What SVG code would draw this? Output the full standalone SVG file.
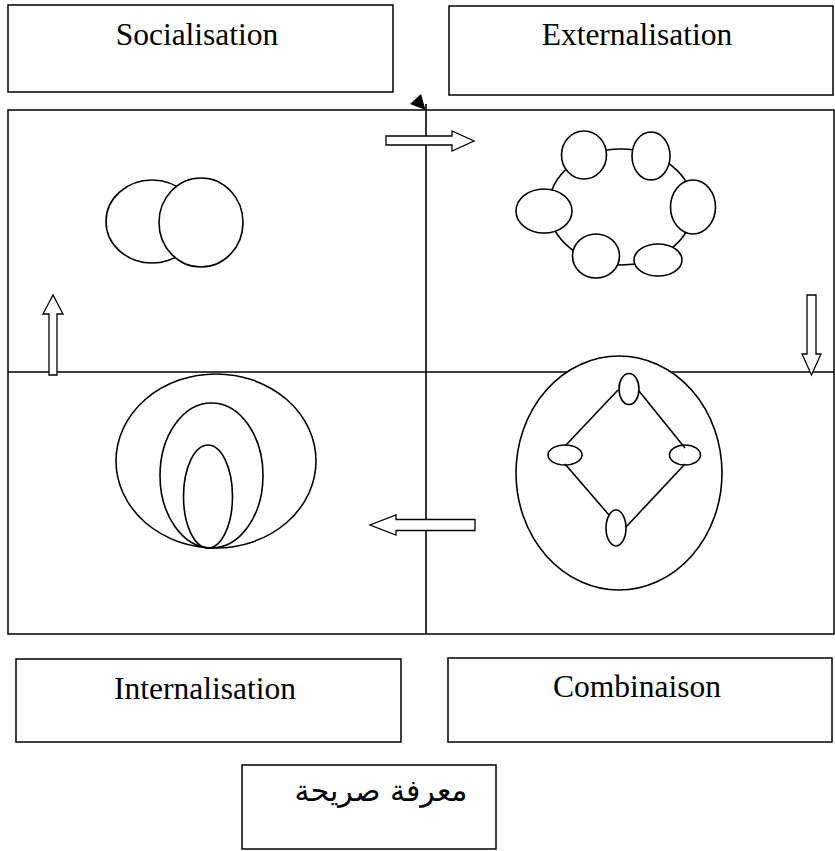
<svg xmlns="http://www.w3.org/2000/svg" width="835" height="851" viewBox="0 0 835 851">
  <style>
    .box { fill: #ffffff; stroke: #000000; stroke-width: 1.5; }
    .shape { fill: #ffffff; stroke: #000000; stroke-width: 1.6; }
    .ring { fill: none; stroke: #000000; stroke-width: 1.6; }
    .line { stroke: #000000; stroke-width: 1.6; fill: none; }
    .arrow { fill: #ffffff; stroke: #000000; stroke-width: 1.3; stroke-linejoin: miter; }
    .label { font-family: "Liberation Serif", "Times New Roman", serif; font-size: 31.5px; fill: #000000; text-anchor: middle; }
    .arabic { font-family: "DejaVu Sans", "Noto Sans", sans-serif; font-size: 30px; fill: #000000; text-anchor: middle; }
  </style>
  <rect width="835" height="851" fill="#ffffff"/>

  <!-- Title boxes -->
  <g id="socialisation">
    <rect class="box" x="8" y="5" width="385" height="87"/>
    <text class="label" x="197" y="45">Socialisation</text>
  </g>
  <g id="externalisation">
    <rect class="box" x="449" y="6" width="384" height="89"/>
    <text class="label" x="637" y="45">Externalisation</text>
  </g>

  <!-- Quadrant frame -->
  <g id="frame">
    <rect class="box" x="8" y="110" width="826" height="524" fill="none"/>
    <line class="line" x1="8" y1="372" x2="834" y2="372"/>
  </g>

  <!-- Connectors -->
  <g id="connectors">
    <line class="line" x1="426" y1="104" x2="426" y2="634"/>
    <polygon points="410,104 421,94 425.5,110" fill="#000000"/>
    <!-- right arrow (top) -->
    <polygon class="arrow" points="386,136 452,136 452,131 474,141 452,151 452,145 386,145"/>
    <!-- down arrow (right) -->
    <polygon class="arrow" points="807,295 816,295 816,354 821,354 811.5,375 802,354 807,354"/>
    <!-- left arrow (bottom) -->
    <polygon class="arrow" points="475,519.5 475,530.5 396,530.5 396,535 370,525 396,515 396,519.5"/>
    <!-- up arrow (left) -->
    <polygon class="arrow" points="49,375 57,375 57,314 63,314 53,295 43,314 49,314"/>
  </g>

  <!-- Socialisation figure: two overlapping circles -->
  <g id="fig-socialisation">
    <ellipse class="shape" cx="152" cy="221.5" rx="46" ry="41.5"/>
    <ellipse class="shape" cx="201" cy="222.5" rx="42" ry="44.5"/>
  </g>

  <!-- Externalisation figure: ring of ellipses -->
  <g id="fig-externalisation">
    <ellipse class="ring" cx="621" cy="207" rx="72" ry="58"/>
    <ellipse class="shape" cx="584" cy="155" rx="22.5" ry="24"/>
    <ellipse class="shape" cx="651" cy="156" rx="19" ry="24"/>
    <ellipse class="shape" cx="693" cy="207" rx="22.5" ry="27"/>
    <ellipse class="shape" cx="658" cy="260" rx="24" ry="16"/>
    <ellipse class="shape" cx="596" cy="256" rx="23.5" ry="22"/>
    <ellipse class="shape" cx="544" cy="211" rx="28" ry="22"/>
  </g>

  <!-- Internalisation figure: nested ellipses -->
  <g id="fig-internalisation">
    <ellipse class="ring" cx="216" cy="461" rx="100" ry="87"/>
    <ellipse class="ring" cx="211.5" cy="475.5" rx="51.5" ry="72.5"/>
    <ellipse class="ring" cx="208" cy="496.5" rx="24.5" ry="51.5"/>
  </g>

  <!-- Combinaison figure: diamond of ellipses inside a large ellipse -->
  <g id="fig-combinaison">
    <ellipse class="shape" cx="619" cy="473" rx="103" ry="117"/>
    <line class="line" x1="618" y1="390" x2="566" y2="445"/>
    <line class="line" x1="639" y1="391" x2="685" y2="448"/>
    <line class="line" x1="565" y1="464" x2="609" y2="515"/>
    <line class="line" x1="626" y1="527" x2="685" y2="464"/>
    <ellipse class="ring" cx="629" cy="389" rx="10" ry="15.5"/>
    <ellipse class="ring" cx="565" cy="455" rx="17" ry="10"/>
    <ellipse class="ring" cx="685" cy="455" rx="15.5" ry="10"/>
    <ellipse class="ring" cx="616" cy="528" rx="10" ry="18"/>
  </g>

  <!-- Bottom boxes -->
  <g id="internalisation">
    <rect class="box" x="16" y="659" width="385" height="83"/>
    <text class="label" x="205" y="699">Internalisation</text>
  </g>
  <g id="combinaison">
    <rect class="box" x="448" y="658" width="384" height="84"/>
    <text class="label" x="637" y="697">Combinaison</text>
  </g>
  <g id="explicit-knowledge">
    <rect class="box" x="242" y="765" width="254" height="84"/>
    <text class="arabic" x="381" y="801" direction="rtl">معرفة صريحة</text>
  </g>
</svg>
